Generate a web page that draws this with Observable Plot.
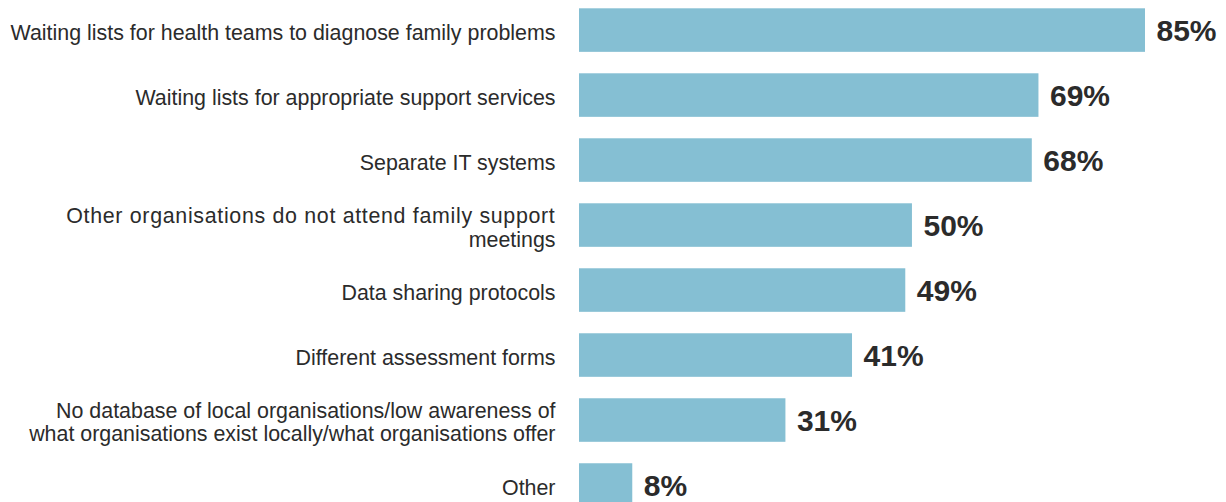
<!DOCTYPE html>
<html><head><meta charset="utf-8">
<script src="https://cdn.jsdelivr.net/npm/d3@7"></script>
<script src="https://cdn.jsdelivr.net/npm/@observablehq/plot@0.6"></script>
<style>
body{margin:0;background:#fff}
#c{width:1226px;height:502px;overflow:hidden}
.wide tspan:first-child{letter-spacing:0.68px}
</style>
</head><body><div id="c"></div>
<script>
const categories = [
  "Waiting lists for health teams to diagnose family problems",
  "Waiting lists for appropriate support services",
  "Separate IT systems",
  "Other organisations do not attend family support meetings",
  "Data sharing protocols",
  "Different assessment forms",
  "No database of local organisations/low awareness of what organisations exist locally/what organisations offer",
  "Other"
];
const labels = [
  "Waiting lists for health teams to diagnose family problems",
  "Waiting lists for appropriate support services",
  "Separate IT systems",
  "Other organisations do not attend family support\nmeetings",
  "Data sharing protocols",
  "Different assessment forms",
  "No database of local organisations/low awareness of\nwhat organisations exist locally/what organisations offer",
  "Other"
];
const values = [85, 69, 68, 50, 49, 41, 31, 8];
const justified = ["Other organisations do not attend family support meetings"];
const data = categories.map((c, i) => ({category: c, label: labels[i], value: values[i]}));

const labelOpts = {y: "category", text: "label", frameAnchor: "left", textAnchor: "end", dx: -24, dy: 2, fontSize: 21.4, lineHeight: 1.08, fill: "#2b2b2b"};

const chart = Plot.plot({
  width: 1226, height: 502,
  marginLeft: 579, marginRight: 81, marginTop: 0, marginBottom: 0,
  x: {domain: [0, 85], axis: null},
  y: {domain: categories, range: [8.3, 506.8], paddingInner: 0.33, paddingOuter: 0, round: false, axis: null},
  style: {fontFamily: "'Liberation Sans', Arial, sans-serif", background: "#fff", overflow: "hidden"},
  marks: [
    Plot.barX(data, {x: "value", y: "category", fill: "#85bfd3"}),
    Plot.text(data, {x: "value", y: "category", text: d => d.value + "%", textAnchor: "start", dx: 11, dy: 1, fontSize: 30, fontWeight: "bold", fill: "#2b2b2b"}),
    Plot.text(data.filter(d => !justified.includes(d.category)), labelOpts),
    Plot.text(data.filter(d => justified.includes(d.category)), {...labelOpts, className: "wide"})
  ]
});
document.getElementById("c").appendChild(chart);
</script>
</body></html>
